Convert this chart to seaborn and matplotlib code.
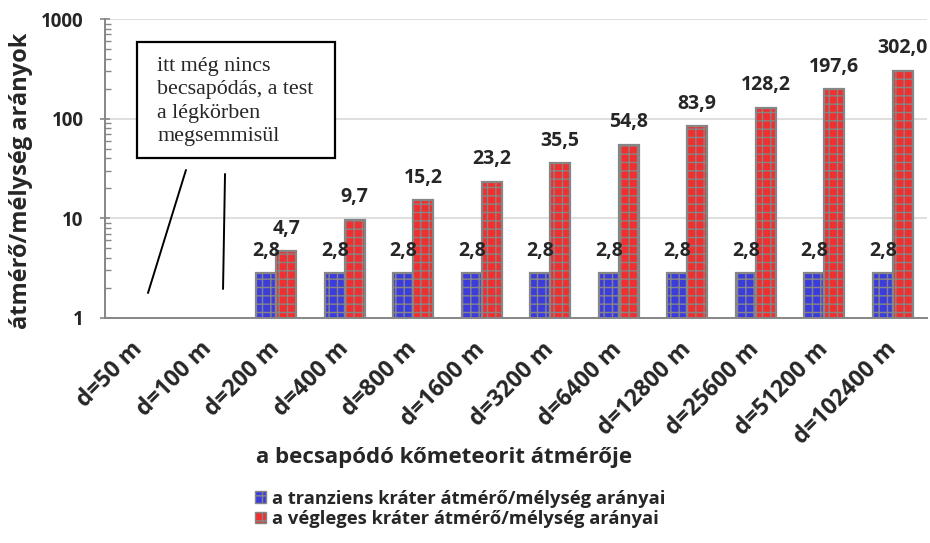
import numpy as np
import pandas as pd
import matplotlib
matplotlib.use('Agg')
import matplotlib.pyplot as plt
import matplotlib.transforms as mtransforms
from matplotlib.patches import Patch, Rectangle
import seaborn as sns

# Data
categories = ['d=50 m', 'd=100 m', 'd=200 m', 'd=400 m', 'd=800 m', 'd=1600 m',
              'd=3200 m', 'd=6400 m', 'd=12800 m', 'd=25600 m', 'd=51200 m', 'd=102400 m']
tranziens = [np.nan, np.nan, 2.8, 2.8, 2.8, 2.8, 2.8, 2.8, 2.8, 2.8, 2.8, 2.8]
vegleges = [np.nan, np.nan, 4.7, 9.7, 15.2, 23.2, 35.5, 54.8, 83.9, 128.2, 197.6, 302.0]
series_names = ['a tranziens kráter átmérő/mélység arányai',
                'a végleges kráter átmérő/mélység arányai']
ytick_vals = [1, 10, 100, 1000]

df = pd.DataFrame({
    'cat': categories * 2,
    'val': tranziens + vegleges,
    'series': [series_names[0]] * len(categories) + [series_names[1]] * len(categories),
})

sns.set_style('white')
plt.rcParams['font.family'] = ['Open Sans', 'DejaVu Sans']

fig = plt.figure(figsize=(9.3, 5.43), dpi=100)
ax = fig.add_axes([0.1129, 0.4144, 0.8839, 0.5506])

colors = ['#3c3cdc', '#f03030']
hatch_colors = ['#a8a8ff', '#ffb8b8']
gray = '#868686'
sns.barplot(data=df.dropna(), x='cat', y='val', hue='series', order=categories,
            hue_order=series_names, palette=colors, width=0.58, ax=ax,
            edgecolor=gray, linewidth=1.6, legend=False, saturation=1)

ax.set_yscale('log')
ax.set_ylim(1, 1000)
ax.set_xlim(-0.5, len(categories) - 0.5)
ax.set_yticks(ytick_vals)
ax.set_yticklabels([str(v) for v in ytick_vals], fontsize=13.5, fontweight='bold')
ax.yaxis.grid(True, which='major', color='#d9d9d9', linewidth=1.2)
ax.set_axisbelow(True)

# hatch pattern + value labels with decimal comma
for i, cont in enumerate(ax.containers):
    for p in cont:
        p.set_hatch('++')
        try:
            p.set_hatchcolor(hatch_colors[i])
        except AttributeError:
            pass
    labels = [('%.1f' % v).replace('.', ',') for v in cont.datavalues]
    ax.bar_label(cont, labels=labels, padding=9, fontsize=14, fontweight='bold')

ax.set_xticks(np.arange(len(categories)))
ax.set_xticklabels(categories, rotation=45, ha='right', va='center',
                   rotation_mode='anchor', fontsize=16.5, fontweight='bold')
offset = mtransforms.ScaledTranslation(10 / 100, 0, fig.dpi_scale_trans)
for lab in ax.get_xticklabels():
    lab.set_transform(lab.get_transform() + offset)
ax.tick_params(axis='x', which='major', length=0, pad=20)
ax.set_xticks(np.arange(len(categories) + 1) - 0.5, minor=True)
ax.tick_params(axis='x', which='minor', length=6, color=gray, direction='out', width=1.2)
ax.tick_params(axis='y', which='major', length=7, direction='inout', left=True,
               color=gray, width=1.2, pad=12)
ax.tick_params(axis='y', which='minor', length=4, direction='in', left=True,
               color=gray, width=1.0)

for s in ['top', 'right']:
    ax.spines[s].set_visible(False)
for s in ['left', 'bottom']:
    ax.spines[s].set_color(gray)
    ax.spines[s].set_linewidth(1.4)

ax.set_xlabel('a becsapódó kőmeteorit átmérője', fontsize=16, fontweight='bold')
ax.xaxis.set_label_coords(0.412, -0.43)
ax.set_ylabel('átmérő/mélység arányok', fontsize=17, fontweight='bold')
ax.yaxis.set_label_coords(-0.0876, 0.46)

# Annotation box
ax.add_patch(Rectangle((0.039, 0.535), 0.241, 0.388, transform=ax.transAxes,
                       facecolor='white', edgecolor='black', linewidth=1.6, zorder=5))
ax.text(0.0633, 0.872, 'itt még nincs\nbecsapódás, a test\na légkörben\nmegsemmisül',
        transform=ax.transAxes, fontsize=15.8, family='Liberation Serif',
        va='top', ha='left', linespacing=1.3, zorder=6)
ax.plot([0.0985, 0.0523], [0.495, 0.0836], color='black', lw=1.4, transform=ax.transAxes)
ax.plot([0.146, 0.1436], [0.4816, 0.097], color='black', lw=1.4, transform=ax.transAxes)

# Legend
handles = [Patch(facecolor=colors[i], edgecolor=gray, hatch='++') for i in range(2)]
fig.legend(handles, series_names, loc='center left', bbox_to_anchor=(0.274, 0.063),
           ncol=1, frameon=False, prop={'weight': 'bold', 'size': 13.2},
           handlelength=0.6, handleheight=0.6, handletextpad=0.35, labelspacing=0.12,
           borderpad=0, borderaxespad=0)

fig.savefig('out.png', dpi=100)
